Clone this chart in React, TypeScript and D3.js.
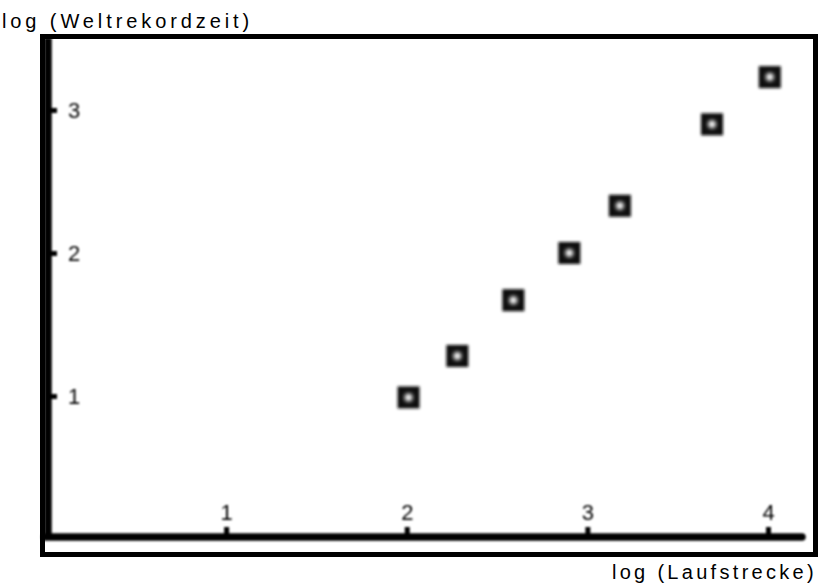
import React, { useEffect, useRef } from 'react'
import * as d3 from 'd3'

// log10 of race distance (m) and log10 of world record time (s)
const distances = [2.01, 2.28, 2.59, 2.9, 3.18, 3.69, 4.01]
const recordTimes = [0.99, 1.28, 1.67, 2.0, 2.33, 2.9, 3.23]
const xTicks = [1, 2, 3, 4]
const yTicks = [1, 2, 3]
const xTitle = 'log (Laufstrecke)'
const yTitle = 'log (Weltrekordzeit)'

export default function App() {
  const svgRef = useRef<SVGSVGElement>(null)

  useEffect(() => {
    const w = 825
    const h = 583
    const svg = d3.select(svgRef.current)
      .attr('width', w)
      .attr('height', h)
    svg.selectAll('*').remove()

    const font = '"Liberation Sans", Arial, sans-serif'

    const defs = svg.append('defs')
    defs.append('filter').attr('id', 'soft')
      .append('feGaussianBlur').attr('stdDeviation', 0.9)
    defs.append('filter').attr('id', 'soft2')
      .attr('x', '-50%').attr('y', '-50%').attr('width', '200%').attr('height', '200%')
      .append('feGaussianBlur').attr('stdDeviation', 1.8)
    defs.append('filter').attr('id', 'glow')
      .attr('x', '-100%').attr('y', '-100%').attr('width', '300%').attr('height', '300%')
      .append('feGaussianBlur').attr('stdDeviation', 2.2)

    const x = d3.scaleLinear().domain([0, 4]).range([45.5, 768])
    const y = d3.scaleLinear().domain([0, 3]).range([539, 110])

    const axisY = 537
    const axisX = 48

    // frame
    svg.append('rect')
      .attr('x', 42.5).attr('y', 36.5)
      .attr('width', 773).attr('height', 518)
      .attr('fill', 'none').attr('stroke', '#000').attr('stroke-width', 5)

    const axes = svg.append('g').attr('filter', 'url(#soft)')

    // axis lines
    axes.append('line')
      .attr('x1', axisX).attr('x2', axisX)
      .attr('y1', 38).attr('y2', axisY)
      .attr('stroke', '#000').attr('stroke-width', 7.5)
    axes.append('line')
      .attr('x1', 45).attr('x2', 802)
      .attr('y1', axisY).attr('y2', axisY)
      .attr('stroke', '#000').attr('stroke-width', 7.5)
      .attr('stroke-linecap', 'round')

    // x axis, ticks and labels above the line
    const gx = axes.append('g')
      .attr('transform', `translate(0,${axisY})`)
      .call(d3.axisTop(x).tickValues(xTicks).tickSize(10).tickPadding(7).tickFormat(d3.format('d')))
    gx.select('.domain').remove()
    gx.selectAll('line').attr('stroke', '#000').attr('stroke-width', 5)
    gx.selectAll('text')
      .attr('font-family', font).attr('font-size', 22).attr('fill', '#000')

    // y axis, ticks and labels to the right
    const gy = axes.append('g')
      .attr('transform', `translate(${axisX},0)`)
      .call(d3.axisRight(y).tickValues(yTicks).tickSize(9).tickPadding(11).tickFormat(d3.format('d')))
    gy.select('.domain').remove()
    gy.selectAll('line').attr('stroke', '#000').attr('stroke-width', 5)
    gy.selectAll('text')
      .attr('font-family', font).attr('font-size', 22).attr('fill', '#000')

    // markers
    const pts = distances.map((d, i) => [d, recordTimes[i]])
    const m = svg.append('g')
    m.selectAll('rect.box')
      .data(pts)
      .join('rect')
      .attr('class', 'box')
      .attr('x', d => x(d[0]) - 11)
      .attr('y', d => y(d[1]) - 11)
      .attr('width', 22).attr('height', 22)
      .attr('fill', '#111')
      .attr('filter', 'url(#soft2)')
    m.selectAll('circle.hi')
      .data(pts)
      .join('circle')
      .attr('class', 'hi')
      .attr('cx', d => x(d[0]))
      .attr('cy', d => y(d[1]))
      .attr('r', 4)
      .attr('fill', '#fff')
      .attr('filter', 'url(#glow)')

    // titles
    svg.append('text')
      .attr('x', 2).attr('y', 28)
      .attr('font-family', font).attr('font-size', 20)
      .attr('letter-spacing', 3.9)
      .text(yTitle)
    svg.append('text')
      .attr('x', 817).attr('y', 579)
      .attr('text-anchor', 'end')
      .attr('font-family', font).attr('font-size', 20)
      .attr('letter-spacing', 3.3)
      .text(xTitle)
  }, [])

  return (
    <div style={{ position: 'absolute', left: 0, top: 0 }}>
      <svg ref={svgRef} style={{ display: 'block' }}></svg>
    </div>
  )
}
